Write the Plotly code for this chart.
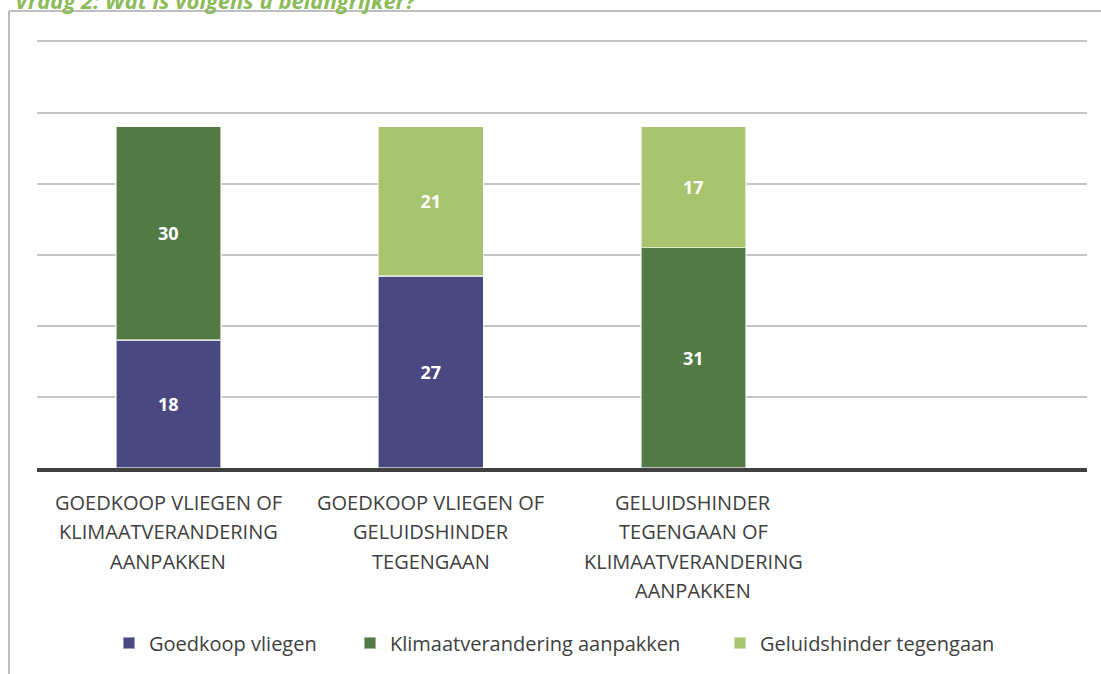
import plotly.graph_objects as go

categories = ["cat1", "cat2", "cat3"]
category_labels = [
    ["GOEDKOOP VLIEGEN OF", "KLIMAATVERANDERING", "AANPAKKEN"],
    ["GOEDKOOP VLIEGEN OF", "GELUIDSHINDER", "TEGENGAAN"],
    ["GELUIDSHINDER", "TEGENGAAN OF", "KLIMAATVERANDERING", "AANPAKKEN"],
]
goedkoop_vliegen = [18, 27, None]
klimaat_aanpakken = [30, None, 31]
geluidshinder_tegengaan = [None, 21, 17]

series = [
    ("Goedkoop vliegen", goedkoop_vliegen, "#4a4880"),
    ("Klimaatverandering aanpakken", klimaat_aanpakken, "#527a45"),
    ("Geluidshinder tegengaan", geluidshinder_tegengaan, "#a8c46f"),
]

FONT = "Open Sans"

# plot-area pixel geometry
L, R, T, B = 37, 1087, 40, 468
W, H = R - L, B - T
def px(xp): return (xp - L) / W
def py(yp): return (B - yp) / H

legend_names = ["legend", "legend2", "legend3"]
legend_text_x = [151, 392, 762]

fig = go.Figure()
for (name, vals, col), lg in zip(series, legend_names):
    fig.add_trace(go.Bar(
        x=categories, y=vals, name=name, legend=lg,
        marker=dict(color=col, line=dict(color="rgba(255,255,255,0.6)", width=1.5)),
        text=[("" if v is None else str(v)) for v in vals],
        textposition="inside", insidetextanchor="middle",
        textfont=dict(family=FONT, size=18, color="white", weight="bold"),
    ))

annotations = [
    dict(text="<b><i>Vraag 2: Wat is volgens u belangrijker?</i></b>", xref="paper", yref="paper",
         x=px(13), xanchor="left", y=py(-0.5), yanchor="middle", showarrow=False,
         font=dict(family=FONT, size=22, color="#8cbb5a")),
]
LINE = 29.5
for cat, lines in zip(categories, category_labels):
    for i, ln in enumerate(lines):
        annotations.append(dict(
            text=ln, x=cat, xref="x", yref="paper", y=py(502 + i * LINE), yanchor="middle",
            xanchor="center", showarrow=False,
            font=dict(family=FONT, size=20, color="#404040")))

legend_layouts = {}
for lg, tx in zip(legend_names, legend_text_x):
    legend_layouts[lg] = dict(
        orientation="h", x=px(tx - 42), xanchor="left", y=py(643), yanchor="middle",
        font=dict(family=FONT, size=20, color="#404040"), bgcolor="rgba(0,0,0,0)")

fig.update_layout(
    width=1101, height=674,
    barmode="stack", bargap=0.6,
    margin=dict(l=L, r=1101 - R, t=T, b=674 - B, autoexpand=False),
    paper_bgcolor="white", plot_bgcolor="white",
    font=dict(family=FONT, color="#404040"),
    showlegend=True,
    xaxis=dict(type="category", range=[-0.5, 3.5], showline=True, linecolor="#404040",
               linewidth=4, ticks="", showticklabels=False, showgrid=False, automargin=False),
    yaxis=dict(range=[0, 60.2], tickvals=[10, 20, 30, 40, 50, 60], showticklabels=False,
               showgrid=True, gridcolor="#c4c4c4", gridwidth=1.5, zeroline=False,
               showline=False, automargin=False),
    shapes=[
        dict(type="line", xref="paper", yref="paper", x0=px(9), x1=px(1101), y0=py(11), y1=py(11),
             line=dict(color="#bfbfbf", width=2)),
        dict(type="line", xref="paper", yref="paper", x0=px(9), x1=px(9), y0=py(11), y1=py(674),
             line=dict(color="#bfbfbf", width=2)),
    ],
    annotations=annotations,
    **legend_layouts,
)

fig.write_html("out.html", config={"displayModeBar": False},
               post_script="document.body.style.margin='0';")
